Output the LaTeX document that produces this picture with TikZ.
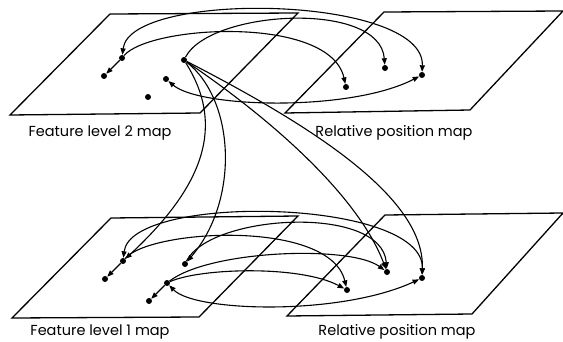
\documentclass[tikz,border=0pt]{standalone}
\usepackage{fontspec}
\setmainfont{Poppins}
\usetikzlibrary{arrows.meta}
\begin{document}
\begin{tikzpicture}[x=1pt,y=-1pt,
  plane/.style={draw, line width=1.3pt, line join=miter},
  dot/.style={circle, fill, inner sep=0pt, minimum size=6pt},
  tipa/.tip={Triangle[length=6.5pt,width=5pt]},
  conn/.style={line width=1.1pt, -tipa},
  bi/.style={line width=1.1pt, tipa-tipa},
  lbl/.style={font=\fontsize{14.5}{16}\selectfont, inner sep=0pt}]
\useasboundingbox (0,0) rectangle (563,342);

% planes
\draw[plane] (110,14) -- (298,13) -- (200,113) -- (10,115) -- cycle;
\draw[plane] (384,12) -- (563,11) -- (470,110) -- (285,113) -- cycle;
\draw[plane] (111,218) -- (298,216) -- (199,317) -- (12,318) -- cycle;
\draw[plane] (385,215) -- (563,213) -- (472,314) -- (287,316) -- cycle;

% labels
\node[lbl] (l1) at (100,133) {Feature level 2 map};
\node[lbl] (l2) at (394,133) {Relative position map};
\node[lbl] (l3) at (100,332) {Feature level 1 map};
\node[lbl] (l4) at (397,332) {Relative position map};

% top dots
\node[dot] (a1) at (122,58) {};
\node[dot] (a2) at (104,76) {};
\node[dot] (a3) at (184,60) {};
\node[dot] (a4) at (166,79) {};
\node[dot] (a5) at (148,97) {};
\node[dot] (r1) at (346,87) {};
\node[dot] (r2) at (385,68) {};
\node[dot] (r3) at (422,75) {};

% bottom dots
\node[dot] (b1) at (123,261) {};
\node[dot] (b2) at (105,279) {};
\node[dot] (b3) at (185,264) {};
\node[dot] (b4) at (167,283) {};
\node[dot] (b5) at (149,301) {};
\node[dot] (s1) at (347,290) {};
\node[dot] (s2) at (387,272) {};
\node[dot] (s3) at (422,278) {};

% top map connections
\draw[conn] (a1) -- (a2);
\draw[bi] (a1) .. controls (130,-10) and (425,-5) .. (r3);
\draw[conn] (a1) .. controls (150,25) and (330,15) .. (r1);
\draw[conn] (a3) .. controls (210,10) and (380,0) .. (r2);
\draw[bi] (a4) .. controls (200,108) and (350,112) .. (r3);

% top to bottom
\draw[conn] (a3) .. controls (225,125) and (205,185) .. (b1);
\draw[conn] (a3) .. controls (235,100) and (240,200) .. (b3);
\draw[conn] (a3) .. controls (280,125) and (360,200) .. (s2);
\draw[conn] (a3) .. controls (320,130) and (425,200) .. (s3);

% bottom map connections
\draw[conn] (b1) -- (b2);
\draw[conn] (b4) -- (b5);
\draw[bi] (b1) .. controls (131,193) and (425,198) .. (s3);
\draw[conn] (b1) .. controls (150,229) and (330,219) .. (s1);
\draw[conn] (b3) .. controls (210,214) and (382,204) .. (s2);
\draw[conn] (b4) .. controls (210,250) and (350,245) .. (s2);
\draw[conn] (b4) .. controls (200,268) and (300,265) .. (s1);
\draw[bi] (b4) .. controls (195,312) and (340,316) .. (s3);
\end{tikzpicture}
\end{document}
